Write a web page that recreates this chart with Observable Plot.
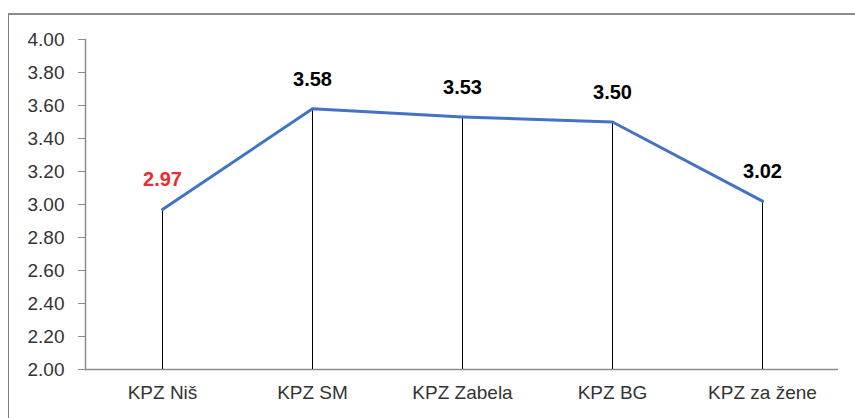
<!DOCTYPE html>
<html>
<head>
<meta charset="utf-8">
<script src="https://cdn.jsdelivr.net/npm/d3@7"></script>
<script src="https://cdn.jsdelivr.net/npm/@observablehq/plot@0.6"></script>
<style>
  html, body { margin: 0; padding: 0; background: #fff; }
  #wrap { position: relative; width: 855px; height: 418px; overflow: hidden; }
  #border { position: absolute; left: 8px; top: 13px; width: 900px; height: 500px;
            border-left: 1px solid #808080; border-top: 2px solid #8c8c8c; box-sizing: border-box; }
  #chart { position: absolute; left: 0; top: 0; }
</style>
</head>
<body>
<div id="wrap"><div id="border"></div><div id="chart"></div></div>
<script>
const categories = ["KPZ Niš", "KPZ SM", "KPZ Zabela", "KPZ BG", "KPZ za žene"];
const values = [2.97, 3.58, 3.53, 3.50, 3.02];
const yTicks = [2.0, 2.2, 2.4, 2.6, 2.8, 3.0, 3.2, 3.4, 3.6, 3.8, 4.0];
const highlightIndex = 0;

const data = categories.map((c, i) => ({cat: c, value: values[i], i}));

const chart = Plot.plot({
  width: 855,
  height: 418,
  marginLeft: 85,
  marginRight: 17,
  marginTop: 39,
  marginBottom: 49,
  style: {fontFamily: "'Liberation Sans', Arial, sans-serif", background: "transparent"},
  x: {type: "point", domain: categories, padding: 0.5},
  y: {domain: [2, 4]},
  marks: [
    Plot.ruleY([2], {stroke: "#8c8c8c", strokeWidth: 1.5}),
    Plot.frame({anchor: "left", stroke: "#8c8c8c", strokeWidth: 1.5}),
    Plot.axisY({ticks: yTicks, tickFormat: d3.format(".2f"), tickSize: 7, tickPadding: 14,
                fontSize: 19, stroke: "#8c8c8c", fill: "#333", label: null}),
    Plot.axisX({tickSize: 0, tickPadding: 16, fontSize: 19, fill: "#333", label: null}),
    Plot.ruleX(data, {x: "cat", y1: 2, y2: "value", stroke: "#000", strokeWidth: 1}),
    Plot.line(data, {x: "cat", y: "value", stroke: "#4472C4", strokeWidth: 3}),
    Plot.text(data.filter(d => d.i !== highlightIndex), {x: "cat", y: "value", text: d => d.value.toFixed(2),
      lineAnchor: "bottom", dy: -23, fontSize: 20, fontWeight: "bold", fill: "#000"}),
    Plot.text(data.filter(d => d.i === highlightIndex), {x: "cat", y: "value", text: d => d.value.toFixed(2),
      lineAnchor: "bottom", dy: -23, fontSize: 20, fontWeight: "bold", fill: "#EE2A2F"})
  ]
});
document.getElementById("chart").appendChild(chart);
</script>
</body>
</html>
